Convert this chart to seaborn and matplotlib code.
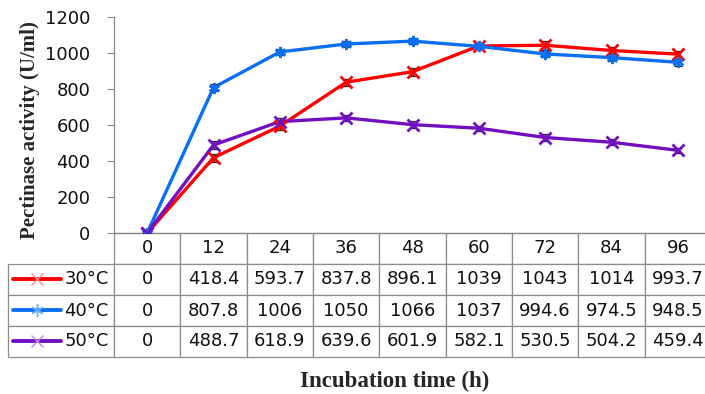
import numpy as np
import pandas as pd
import matplotlib
matplotlib.use('Agg')
import matplotlib.pyplot as plt
from matplotlib.lines import Line2D
import seaborn as sns

# data
hours = ['0', '12', '24', '36', '48', '60', '72', '84', '96']
temps = ['30°C', '40°C', '50°C']
act_30 = [0, 418.4, 593.7, 837.8, 896.1, 1039, 1043, 1014, 993.7]
act_40 = [0, 807.8, 1006, 1050, 1066, 1037, 994.6, 974.5, 948.5]
act_50 = [0, 488.7, 618.9, 639.6, 601.9, 582.1, 530.5, 504.2, 459.4]
err_30 = [0, 22, 20, 20, 22, 15, 25, 22, 18]
err_40 = [0, 20, 15, 15, 15, 15, 18, 20, 18]
err_50 = [0, 20, 20, 18, 18, 15, 18, 18, 15]
y_ticks = [0, 200, 400, 600, 800, 1000, 1200]

colors = {'30°C': '#ff0000', '40°C': '#0a6ff0', '50°C': '#7010c0'}
key_colors = {'30°C': '#ff8a8a', '40°C': '#5fb0ff', '50°C': '#b98ae8'}
markers = {'30°C': 'x', '40°C': (6, 2, 0), '50°C': 'x'}

series = {'30°C': (act_30, err_30), '40°C': (act_40, err_40), '50°C': (act_50, err_50)}
pos = np.arange(len(hours))
df = pd.concat([
    pd.DataFrame({'pos': pos, 'activity': vals, 'temp': t})
    for t, (vals, _) in series.items()
])

sns.set_theme(style='white')
plt.rcParams['font.family'] = ['DejaVu Sans']

W, H = 705, 394
fig = plt.figure(figsize=(W / 100, H / 100), dpi=100)
# axes in pixel terms: x 114..711, y 17..233 (from top)
ax = fig.add_axes([114 / W, (H - 233) / H, 597 / W, 216 / H])

sns.lineplot(data=df, x='pos', y='activity', hue='temp', palette=colors,
             linewidth=2.4, legend=False, ax=ax, zorder=2)
for t, (vals, errs) in series.items():
    ax.errorbar(pos, vals, yerr=errs, fmt='none', ecolor='#222222',
                elinewidth=0.9, capsize=3, capthick=0.9, zorder=3)
    ax.plot(pos, vals, linestyle='none', marker=markers[t], color=colors[t],
            markersize=8, markeredgewidth=2, zorder=4)

ax.set_xlim(-0.5, len(hours) - 0.5)
ax.set_ylim(0, 1200)
ax.set_yticks(y_ticks)
ax.set_xticks([])
ax.tick_params(axis='y', which='major', left=True, length=5, width=0.8,
               color='#888888', labelsize=13, pad=12, labelcolor='#111111')
for s in ['top', 'right']:
    ax.spines[s].set_visible(False)
for s in ['left', 'bottom']:
    ax.spines[s].set_color('#888888')
    ax.spines[s].set_linewidth(0.9)
ax.set_xlabel('')
ax.set_ylabel('Pectinase activity (U/ml)', family='Liberation Serif',
              fontweight='bold', fontsize=15)
ax.yaxis.set_label_coords(-74 / 597, 0.475)

# data table below the plot (Excel style)
cell_text = [[''] + hours]
for t, (vals, _) in series.items():
    cell_text.append([t] + [f'{v:g}' for v in vals])
leg_w = 106
col_w = 597 / len(hours)
tot_w = leg_w + col_w * len(hours)
table = ax.table(cellText=cell_text,
                 colWidths=[leg_w / tot_w] + [col_w / tot_w] * len(hours),
                 cellLoc='center',
                 bbox=[-leg_w / 597, -124 / 216, tot_w / 597, 124 / 216])
table.auto_set_font_size(False)
table.set_fontsize(13)
for (r, c), cell in table.get_celld().items():
    cell.set_edgecolor('#8c8c8c')
    cell.set_linewidth(0.9)
    cell.get_text().set_color('#111111')
    if r == 0 and c == 0:
        cell.visible_edges = ''
    elif c == 0:
        cell.get_text().set_ha('right')
        cell.PAD = 0.05

# legend keys inside the first column
row_h = 31 / H
for i, t in enumerate(temps):
    yk = (H - 263) / H - (i + 0.5) * row_h
    fig.add_artist(Line2D([13 / W, 61 / W], [yk, yk], color=colors[t],
                          linewidth=2.8, transform=fig.transFigure))
    fig.add_artist(Line2D([37 / W], [yk], marker=markers[t], color=key_colors[t],
                          markersize=9, markeredgewidth=1, linestyle='none',
                          transform=fig.transFigure))

fig.text(395 / W, (H - 381) / H, 'Incubation time (h)', family='Liberation Serif',
         fontweight='bold', fontsize=16.5, ha='center', va='center')

fig.savefig('out.png', dpi=100)
